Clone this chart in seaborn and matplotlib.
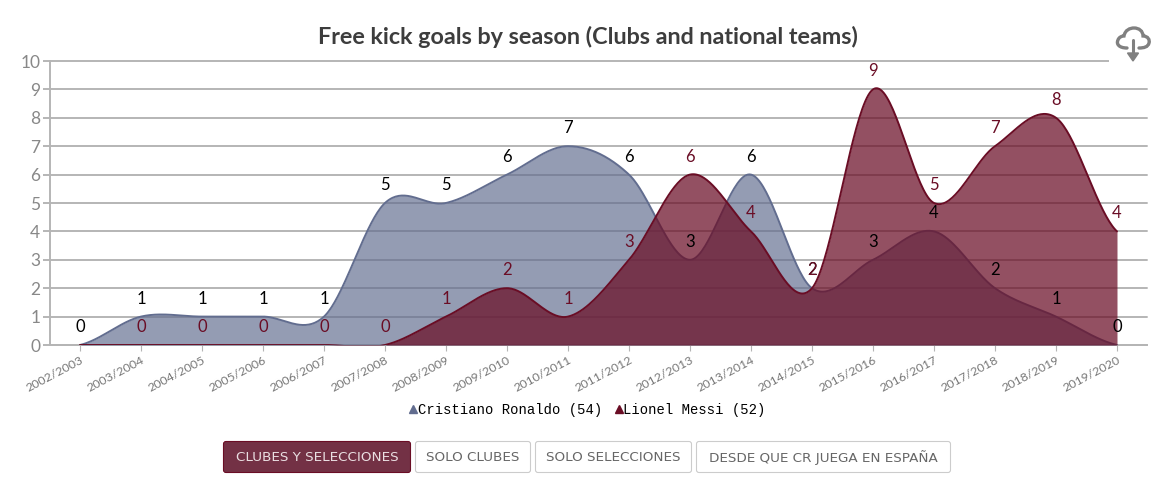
import numpy as np
import pandas as pd
import seaborn as sns
from matplotlib import pyplot as plt
from matplotlib.lines import Line2D
from matplotlib.patches import FancyBboxPatch, PathPatch, Polygon, Rectangle
from matplotlib.path import Path
from matplotlib.transforms import ScaledTranslation

SEASONS = [
    "2002/2003", "2003/2004", "2004/2005", "2005/2006", "2006/2007", "2007/2008",
    "2008/2009", "2009/2010", "2010/2011", "2011/2012", "2012/2013", "2013/2014",
    "2014/2015", "2015/2016", "2016/2017", "2017/2018", "2018/2019", "2019/2020",
]
RONALDO = [0, 1, 1, 1, 1, 5, 5, 6, 7, 6, 3, 6, 2, 3, 4, 2, 1, 0]
MESSI = [0, 0, 0, 0, 0, 0, 1, 2, 1, 3, 6, 4, 2, 9, 5, 7, 8, 4]
RONALDO_LABEL = "Cristiano Ronaldo (54)"
MESSI_LABEL = "Lionel Messi (52)"
TITLE = "Free kick goals by season (Clubs and national teams)"
BUTTONS = ["CLUBES Y SELECCIONES", "SOLO CLUBES", "SOLO SELECCIONES", "DESDE QUE CR JUEGA EN ESPAÑA"]

WIDTH, HEIGHT = 1168, 495
BLUE = "#626d8f"
RED = "#6a0d25"
GRID = "#b5b5b5"
ICON = "#808080"


def smooth(values, steps=40):
    # same rounded curve the chart uses: cardinal spline through every value
    y = np.asarray(values, dtype=float)
    padded = np.concatenate([[y[0]], y, [y[-1]]])
    slopes = (padded[2:] - padded[:-2]) / 2
    t = np.linspace(0, 1, steps, endpoint=False)
    xs, ys = [], []
    for i in range(len(y) - 1):
        h00 = 2 * t**3 - 3 * t**2 + 1
        h10 = t**3 - 2 * t**2 + t
        h01 = -2 * t**3 + 3 * t**2
        h11 = t**3 - t**2
        xs.append(i + t)
        ys.append(h00 * y[i] + h10 * slopes[i] + h01 * y[i + 1] + h11 * slopes[i + 1])
    xs.append([len(y) - 1])
    ys.append([y[-1]])
    return pd.DataFrame({"x": np.concatenate(xs), "y": np.concatenate(ys)})


def draw_series(ax, values, color, alpha, zorder):
    curve = smooth(values)
    ax.fill_between(curve["x"], curve["y"], 0, color=color, alpha=alpha, linewidth=0, zorder=zorder)
    sns.lineplot(data=curve, x="x", y="y", color=color, linewidth=1.4, sort=False,
                 errorbar=None, estimator=None, ax=ax, zorder=zorder + 0.1)


def draw_labels(ax, values, color, start=0):
    for i, value in enumerate(values):
        if i < start:
            continue
        ax.annotate(str(value), (i, value), xytext=(0, 12.9), textcoords="offset points",
                    ha="center", va="center", fontsize=12, color=color, zorder=10)


def draw_button(over, x0, x1, text, active=False):
    face = "#733145" if active else "white"
    edge = RED if active else "#cccccc"
    over.add_patch(FancyBboxPatch((x0, 441.5), x1 - x0, 31, boxstyle="round,pad=0,rounding_size=2.5",
                                  facecolor=face, edgecolor=edge, linewidth=0.8))
    over.text((x0 + x1) / 2, 457.5, text, ha="center", va="center", fontsize=9.7,
              family="DejaVu Sans", color="#eadfe2" if active else "#666666")


def draw_cloud(over):
    verts = [
        (1127, 48), (1119, 48), (1116, 44), (1118, 40),
        (1119, 37), (1122, 36), (1124, 36),
        (1125, 30), (1130, 28), (1134, 28),
        (1139, 28), (1143, 31), (1143, 36),
        (1148, 36), (1150, 40), (1149, 43),
        (1148, 47), (1144, 48), (1139, 48),
    ]
    codes = [Path.MOVETO] + [Path.CURVE4] * 18
    over.add_patch(PathPatch(Path(verts, codes), facecolor="none", edgecolor=ICON,
                             linewidth=2.4, capstyle="round"))
    over.plot([1133, 1133], [40, 55], color=ICON, linewidth=2.2)
    over.add_patch(Polygon([(1127.5, 53), (1138.5, 53), (1133, 61)], closed=True, color=ICON))


sns.set_theme(style="white")
plt.rcParams["font.family"] = ["Lato", "DejaVu Sans"]

fig = plt.figure(figsize=(WIDTH / 100, HEIGHT / 100), dpi=100)
ax = fig.add_axes([50 / WIDTH, 1 - 345 / HEIGHT, (1147 - 50) / WIDTH, (345 - 61) / HEIGHT])

draw_series(ax, RONALDO, BLUE, 0.68, 3)
draw_series(ax, MESSI, RED, 0.72, 4)
draw_labels(ax, RONALDO, "black")
draw_labels(ax, MESSI, RED, start=1)

ax.set_xlim(-30 / 61, 1067 / 61)
ax.set_ylim(0, 10)
ax.set_xlabel("")
ax.set_ylabel("")
ax.set_xticks(range(len(SEASONS)))
ax.set_xticklabels(SEASONS, rotation=28, ha="right", rotation_mode="anchor", fontsize=8.9, color="#777777")
for label in ax.get_xticklabels():
    label.set_transform(label.get_transform() + ScaledTranslation(3 / 100, 0, fig.dpi_scale_trans))
ax.set_yticks(range(11))
ax.tick_params(axis="y", length=5, width=1.4, color=GRID, labelsize=12.5, labelcolor="#888888", pad=2, left=True)
ax.tick_params(axis="x", length=4, width=0.8, color=GRID, pad=3, bottom=True)
ax.grid(axis="y", color=GRID, linewidth=1.4, zorder=1, clip_on=False)
ax.set_axisbelow(True)
sns.despine(ax=ax, top=True, right=True)
for side in ["left", "bottom"]:
    ax.spines[side].set_color(GRID)
    ax.spines[side].set_linewidth(1.4)
    ax.spines[side].set_zorder(2)

fig.text(587.5 / WIDTH, 1 - 37 / HEIGHT, TITLE, ha="center", va="center", fontsize=16.8,
         fontweight="bold", color="#3d3d3d")

handles = [
    Line2D([], [], linestyle="none", marker="^", markersize=5.8, color=BLUE, label=RONALDO_LABEL),
    Line2D([], [], linestyle="none", marker="^", markersize=5.8, color=RED, label=MESSI_LABEL),
]
fig.legend(handles=handles, loc="center", bbox_to_anchor=(587.5 / WIDTH, 1 - 410 / HEIGHT), ncol=2, frameon=False,
           prop={"family": "Liberation Mono", "size": 10}, handlelength=0.6, handletextpad=0.05,
           columnspacing=0.85, labelcolor="black", borderpad=0)

# overlay in picture pixels for the page furniture around the chart
over = fig.add_axes([0, 0, 1, 1], facecolor="none")
over.set_xlim(0, WIDTH)
over.set_ylim(HEIGHT, 0)
over.axis("off")
over.add_patch(Rectangle((1109, 50), 59, 20, facecolor="white", edgecolor="none"))
draw_cloud(over)
draw_button(over, 223.5, 410.5, BUTTONS[0], active=True)
draw_button(over, 415.5, 530.5, BUTTONS[1])
draw_button(over, 535.5, 691.5, BUTTONS[2])
draw_button(over, 696.5, 950.5, BUTTONS[3])

fig.savefig("out.png", dpi=100)
